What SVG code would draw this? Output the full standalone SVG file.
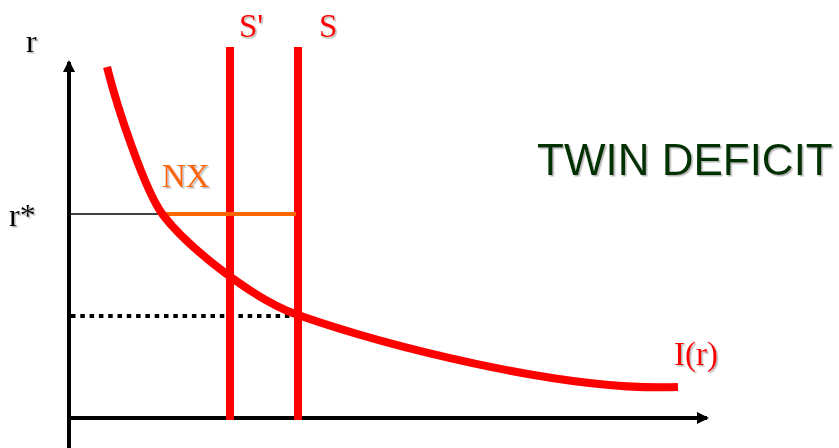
<svg xmlns="http://www.w3.org/2000/svg" width="839" height="448" viewBox="0 0 839 448">
<defs>
<style>
.serif{font-family:"Liberation Serif","Times New Roman",serif;}
.red{fill:#ff0000;}
.axis{stroke:#000;stroke-width:4;fill:none;}
</style>
<filter id="sh" x="-20%" y="-20%" width="140%" height="140%">
<feDropShadow dx="1.5" dy="1.5" stdDeviation="0.6" flood-color="#999" flood-opacity="0.7"/>
</filter>
<marker id="ah" viewBox="0 0 12 12" refX="10" refY="6" markerWidth="12" markerHeight="12" markerUnits="userSpaceOnUse" orient="auto">
<path d="M0,0 L12,6 L0,12 Z" fill="#000"/>
</marker>
</defs>
<rect width="839" height="448" fill="#fff"/>
<g id="connectors">
<line id="y-axis" class="axis" x1="69" y1="448" x2="69" y2="62" marker-end="url(#ah)"/>
<line id="x-axis" class="axis" x1="67" y1="418" x2="707" y2="418" marker-end="url(#ah)"/>
<line id="rstar-line" x1="69" y1="214" x2="166" y2="214" stroke="#000" stroke-width="1.3"/>
<line id="dotted" x1="71" y1="316" x2="306" y2="316" stroke="#000" stroke-width="4" stroke-dasharray="4.5 4.8"/>
</g>
<g id="S-prime">
<line x1="230" y1="47" x2="230" y2="420" stroke="#ff0000" stroke-width="8"/>
<text class="serif red" x="239" y="37" font-size="33" filter="url(#sh)">S'</text>
</g>
<g id="S">
<line x1="298" y1="47" x2="298" y2="420" stroke="#ff0000" stroke-width="8"/>
<text class="serif red" x="319" y="37" font-size="33" filter="url(#sh)">S</text>
</g>
<g id="NX">
<line x1="165" y1="214" x2="296" y2="214" stroke="#ff6600" stroke-width="4"/>
<text class="serif" x="162" y="187" font-size="33" fill="#ff6600" filter="url(#sh)">NX</text>
</g>
<g id="I-curve">
<path d="M107,67 C117,107 145,191.6 163,215 C188,247.5 253,299.3 298,315 C378,343 560,392 678,387" fill="none" stroke="#ff0000" stroke-width="8"/>
<text class="serif red" x="674" y="365" font-size="33" filter="url(#sh)">I(r)</text>
</g>
<g id="labels">
<text class="serif" x="26" y="52" font-size="32" fill="#000" filter="url(#sh)">r</text>
<text class="serif" x="9" y="226" font-size="32" fill="#000" filter="url(#sh)">r*</text>
<text x="537" y="175" font-family="Liberation Sans, Arial, sans-serif" font-size="44" fill="#003300" filter="url(#sh)">TWIN DEFICIT</text>
</g>
</svg>
